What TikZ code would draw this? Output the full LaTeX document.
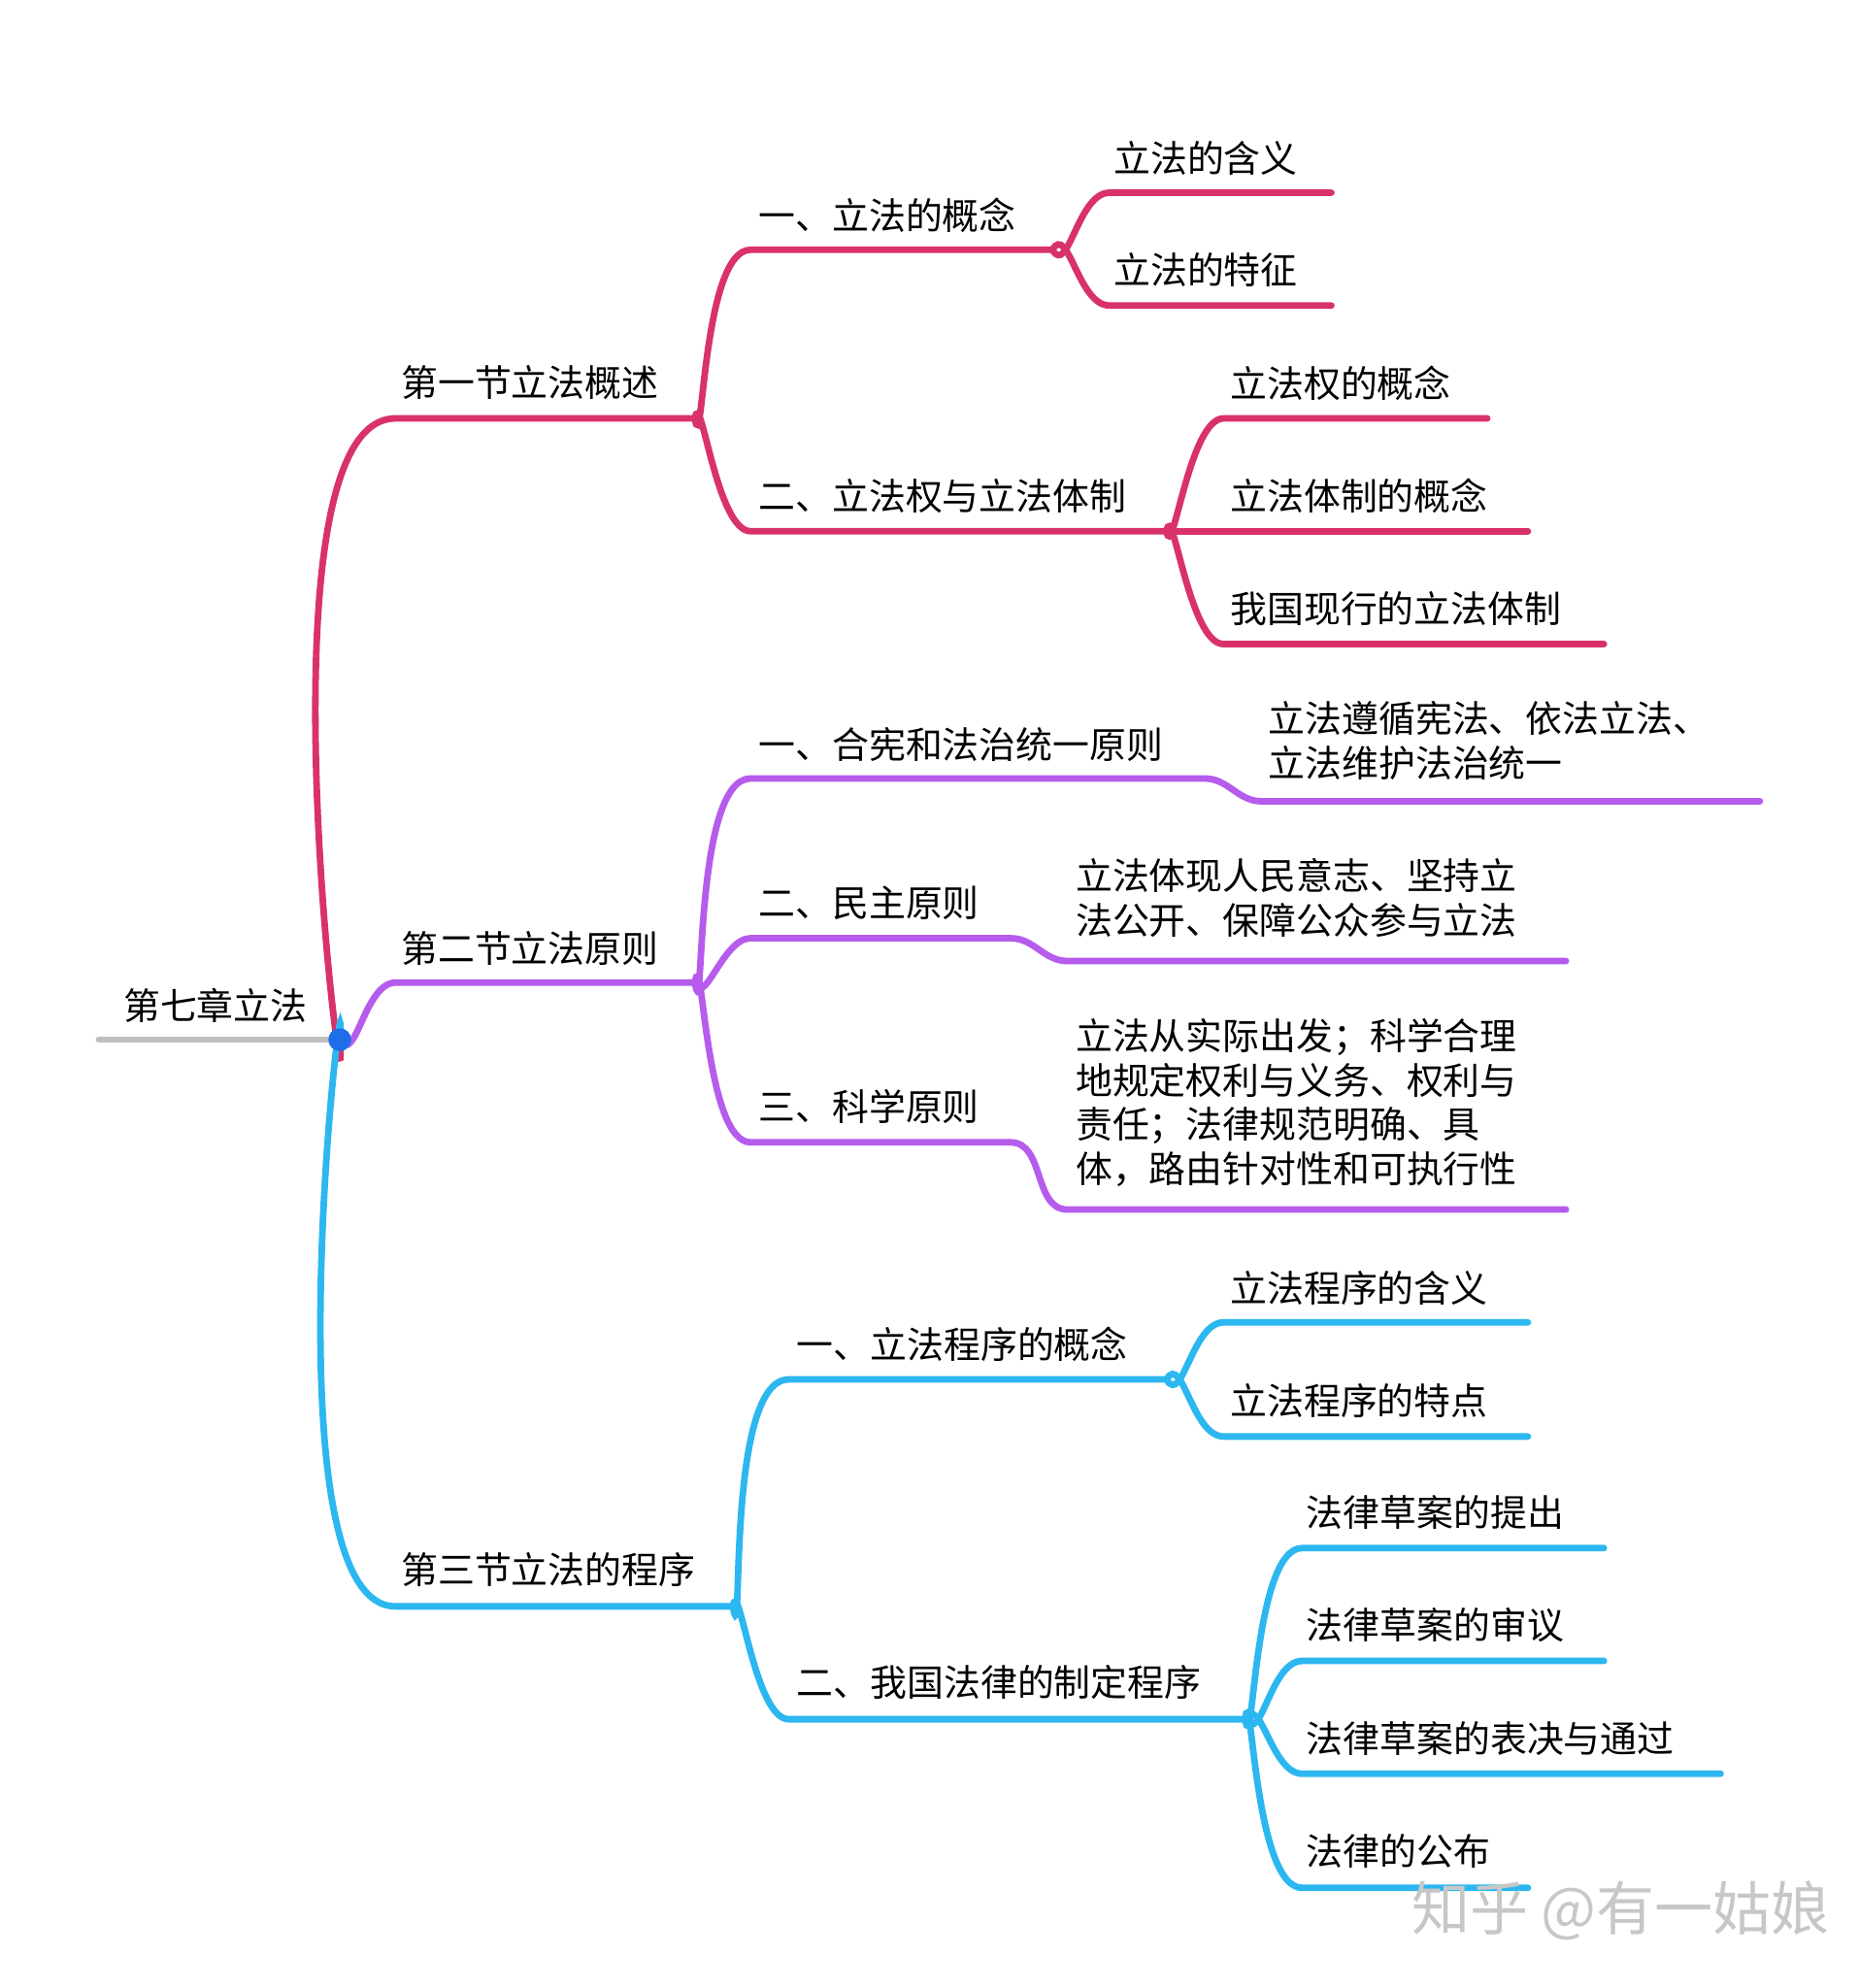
\documentclass[tikz,border=0pt]{standalone}
\usepackage{fontspec}
\setmainfont{Noto Sans CJK SC}
\begin{document}
\begin{tikzpicture}[x=0.5pt,y=-0.5pt,
  lbl/.style={anchor=west,inner sep=0pt,font=\fontsize{14.5}{17.5}\selectfont,align=left},
  br/.style={line width=2.6pt,line cap=round},
  red/.style={br,draw=cR},pur/.style={br,draw=cP},blu/.style={br,draw=cB}]
\definecolor{cR}{HTML}{D9326A}\definecolor{cP}{HTML}{B65CEC}\definecolor{cB}{HTML}{2CB7F0}
\definecolor{cG}{HTML}{BEBEBE}\definecolor{cD}{HTML}{1E6EEA}
\useasboundingbox[fill=white] (0,0) rectangle (1466,1568);
% root
\coordinate (R) at (268,820); \coordinate (R0) at (78,820);
\draw[br,draw=cG] (R0) -- (R);
\node[lbl] (tR) at (97,793) {第七章立法};
% section 1
\coordinate (s1a) at (312,330); \coordinate (s1b) at (548,330);
\draw[red] (R) to[out=-86,in=180,looseness=0.6] (s1a) -- (s1b);
\node[lbl] (t1) at (316,302) {第一节立法概述};
\coordinate (a1) at (592,197); \coordinate (a1b) at (830,197);
\draw[red] (s1b) to[out=-80,in=180,looseness=0.7] (a1) -- (a1b);
\node[lbl] (ta1) at (598,170) {一、立法的概念};
\coordinate (l1) at (875,152); \coordinate (l1b) at (1050,152);
\coordinate (l2) at (875,241); \coordinate (l2b) at (1050,241);
\draw[red] (a1b) to[out=-60,in=180] (l1) -- (l1b);
\draw[red] (a1b) to[out=60,in=180] (l2) -- (l2b);
\node[lbl] (tl1) at (878,125) {立法的含义};
\node[lbl] (tl2) at (878,213) {立法的特征};
\coordinate (a2) at (592,419); \coordinate (a2b) at (920,419);
\draw[red] (s1b) to[out=80,in=180,looseness=0.7] (a2) -- (a2b);
\node[lbl] (ta2) at (598,391) {二、立法权与立法体制};
\coordinate (l3) at (965,330); \coordinate (l3b) at (1173,330);
\coordinate (l4) at (965,419); \coordinate (l4b) at (1205,419);
\coordinate (l5) at (965,508); \coordinate (l5b) at (1265,508);
\draw[red] (a2b) to[out=-80,in=180,looseness=0.7] (l3) -- (l3b);
\draw[red] (a2b) -- (l4b);
\draw[red] (a2b) to[out=80,in=180,looseness=0.7] (l5) -- (l5b);
\node[lbl] (tl3) at (970,302) {立法权的概念};
\node[lbl] (tl4) at (970,391) {立法体制的概念};
\node[lbl] (tl5) at (970,480) {我国现行的立法体制};
% section 2
\coordinate (s2a) at (312,775); \coordinate (s2b) at (548,775);
\draw[pur] (R) to[out=-60,in=180] (s2a) -- (s2b);
\node[lbl] (t2) at (316,748) {第二节立法原则};
\coordinate (b1) at (592,614); \coordinate (b1b) at (950,614);
\coordinate (b1c) at (995,632); \coordinate (b1d) at (1388,632);
\draw[pur] (s2b) to[out=-80,in=180,looseness=0.7] (b1) -- (b1b) to[out=0,in=180] (b1c) -- (b1d);
\node[lbl] (tb1) at (598,587) {一、合宪和法治统一原则};
\node[lbl,anchor=north west] (tb1t) at (1000,553) {立法遵循宪法、依法立法、\\立法维护法治统一};
\coordinate (b2) at (592,740); \coordinate (b2b) at (797,740);
\coordinate (b2c) at (842,758); \coordinate (b2d) at (1235,758);
\draw[pur] (s2b) to[out=-70,in=180] (b2) -- (b2b) to[out=0,in=180] (b2c) -- (b2d);
\node[lbl] (tb2) at (598,712) {二、民主原则};
\node[lbl,anchor=north west] (tb2t) at (848,677) {立法体现人民意志、坚持立\\法公开、保障公众参与立法};
\coordinate (b3) at (592,901); \coordinate (b3b) at (797,901);
\coordinate (b3c) at (842,954); \coordinate (b3d) at (1235,954);
\draw[pur] (s2b) to[out=80,in=180,looseness=0.7] (b3) -- (b3b) to[out=0,in=180] (b3c) -- (b3d);
\node[lbl] (tb3) at (598,873) {三、科学原则};
\node[lbl,anchor=north west] (tb3t) at (848,803) {立法从实际出发；科学合理\\地规定权利与义务、权利与\\责任；法律规范明确、具\\体，路由针对性和可执行性};
% section 3
\coordinate (s3a) at (312,1267); \coordinate (s3b) at (578,1267);
\draw[blu] (R) to[out=86,in=180,looseness=0.6] (s3a) -- (s3b);
\node[lbl] (t3) at (316,1238) {第三节立法的程序};
\coordinate (c1) at (622,1088); \coordinate (c1b) at (920,1088);
\draw[blu] (s3b) to[out=-80,in=180,looseness=0.7] (c1) -- (c1b);
\node[lbl] (tc1) at (628,1060) {一、立法程序的概念};
\coordinate (m1) at (965,1043); \coordinate (m1b) at (1205,1043);
\coordinate (m2) at (965,1133); \coordinate (m2b) at (1205,1133);
\draw[blu] (c1b) to[out=-60,in=180] (m1) -- (m1b);
\draw[blu] (c1b) to[out=60,in=180] (m2) -- (m2b);
\node[lbl] (tm1) at (970,1016) {立法程序的含义};
\node[lbl] (tm2) at (970,1105) {立法程序的特点};
\coordinate (c2) at (622,1356); \coordinate (c2b) at (982,1356);
\draw[blu] (s3b) to[out=80,in=180,looseness=0.7] (c2) -- (c2b);
\node[lbl] (tc2) at (628,1327) {二、我国法律的制定程序};
\coordinate (m3) at (1027,1221); \coordinate (m3b) at (1265,1221);
\coordinate (m4) at (1027,1310); \coordinate (m4b) at (1265,1310);
\coordinate (m5) at (1027,1399); \coordinate (m5b) at (1357,1399);
\coordinate (m6) at (1027,1489); \coordinate (m6b) at (1205,1489);
\draw[blu] (c2b) to[out=-80,in=180,looseness=0.7] (m3) -- (m3b);
\draw[blu] (c2b) to[out=-60,in=180] (m4) -- (m4b);
\draw[blu] (c2b) to[out=60,in=180] (m5) -- (m5b);
\draw[blu] (c2b) to[out=82,in=180,looseness=0.7] (m6) -- (m6b);
\node[lbl] (tm3) at (1030,1193) {法律草案的提出};
\node[lbl] (tm4) at (1030,1282) {法律草案的审议};
\node[lbl] (tm5) at (1030,1371) {法律草案的表决与通过};
\node[lbl] (tm6) at (1030,1460) {法律的公布};
\fill[cD] (R) circle (9);
\node[anchor=west,inner sep=0pt,text=black!22,font=\fontsize{23}{26}\selectfont] (wm) at (1113,1507) {知乎 @有一姑娘};
\end{tikzpicture}
\end{document}
